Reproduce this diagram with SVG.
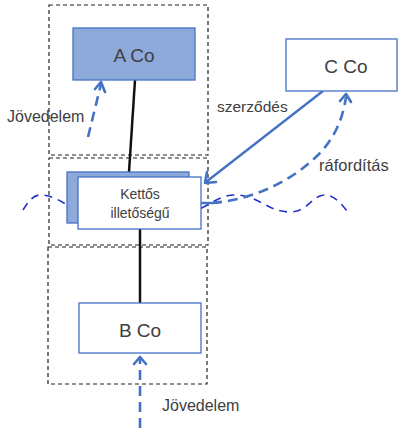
<svg xmlns="http://www.w3.org/2000/svg" width="399" height="428" viewBox="0 0 399 428">
<style>
.frame{fill:none;stroke:#222;stroke-width:1.2;stroke-dasharray:4 3}
.box{fill:#fff;stroke:#4472c4;stroke-width:1.3}
.boxf{fill:#8eaadb;stroke:#4472c4;stroke-width:1.3}
.t{font-family:"Liberation Sans",Arial,sans-serif;fill:#404040}
.link{stroke:#111;stroke-width:2.5;fill:none}
.flow{fill:none;stroke:#4472c4;stroke-width:2.6;stroke-dasharray:10 6}
.head{fill:none;stroke:#4472c4;stroke-width:2.6;stroke-linecap:round;stroke-linejoin:round}
.wave{fill:none;stroke:#2433c8;stroke-width:1.6;stroke-dasharray:8 6}
</style>
<rect width="399" height="428" fill="#fff"/>
<g id="frames">
<rect class="frame" x="49" y="5" width="159" height="150"/>
<rect class="frame" x="49" y="158" width="159" height="87"/>
<rect class="frame" x="48" y="247" width="159" height="137"/>
</g>
<g id="wave">
<path class="wave" d="M23,210 C28,202 33,195 40,195 C60,195 70,212 88,212 C108,212 118,195 138,195 C158,195 165,212 185,212 C205,212 215,195 235,195 C258,195 268,212 290,212 C308,212 312,195 325,195 C335,195 342,205 347,211"/>
</g>
<g id="connectors">
<line class="link" x1="135" y1="80" x2="129" y2="172"/>
<line class="link" x1="140" y1="229" x2="140" y2="303"/>
<line x1="323" y1="91" x2="206" y2="182" stroke="#4472c4" stroke-width="2.4"/>
<path class="head" d="M207,172 L205,183 L216,182"/>
<path class="flow" d="M88,137 L101,84"/>
<path class="head" d="M95,89 L101,82 L105,92"/>
<path class="flow" d="M140,428 L140,359"/>
<path class="head" d="M134,364 L140,357 L146,364"/>
<path d="M201,203 L212,203" stroke="#4472c4" stroke-width="2.4"/>
<path class="flow" d="M212,203 C250,200 290,183 318,155 C335,138 343,118 346,97"/>
<path class="head" d="M340,101 L346,94 L351,102"/>
</g>
<g id="aco">
<rect class="boxf" x="73" y="28" width="122" height="52"/>
<text class="t" x="134" y="62" font-size="19" text-anchor="middle">A Co</text>
</g>
<g id="cco">
<rect class="box" x="286" y="39" width="111" height="52"/>
<text class="t" x="346" y="73" font-size="19" text-anchor="middle">C Co</text>
</g>
<g id="kettos">
<rect class="boxf" x="67" y="172" width="122" height="51"/>
<rect class="box" x="78" y="177" width="123" height="52"/>
<text class="t" x="140" y="199" font-size="14" text-anchor="middle">Kettős</text>
<text class="t" x="140" y="218" font-size="14" text-anchor="middle">illetőségű</text>
</g>
<g id="bco">
<rect class="box" x="79" y="303" width="122" height="50"/>
<text class="t" x="140" y="337" font-size="19" text-anchor="middle">B Co</text>
</g>
<g id="labels">
<text class="t" x="7" y="122" font-size="16">Jövedelem</text>
<text class="t" x="162" y="411" font-size="16">Jövedelem</text>
<text class="t" x="217" y="112" font-size="15.5">szerződés</text>
<text class="t" x="319" y="171" font-size="16.5">ráfordítás</text>
</g>
</svg>
